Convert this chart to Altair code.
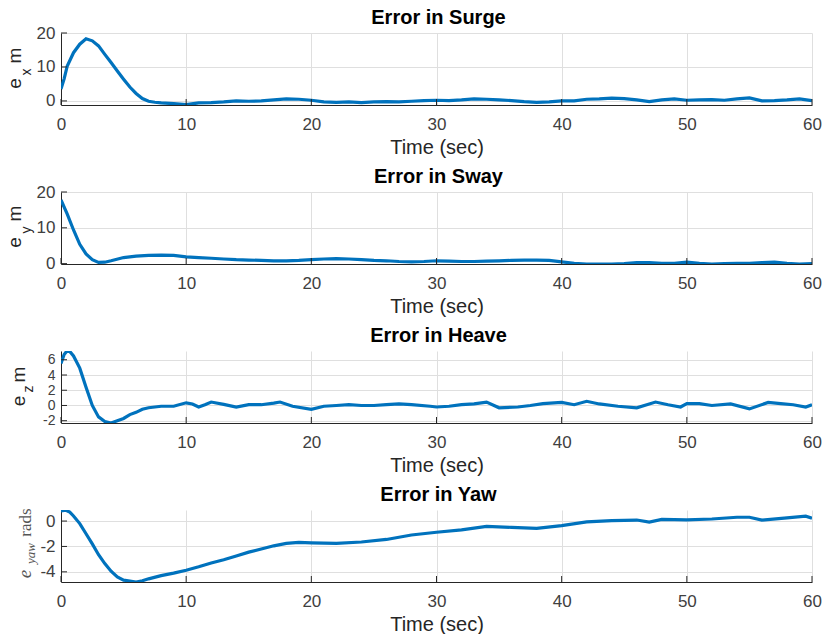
import altair as alt
import pandas as pd

# ---------------- data ----------------
X_TICKS = [0, 10, 20, 30, 40, 50, 60]

SURGE_T = [0, 0.25, 0.5, 1, 1.5, 2, 2.5, 3, 3.5, 4, 4.5, 5, 5.5, 6, 6.5, 7, 7.5, 8, 9, 10] + list(range(11, 61))
SURGE_V = [3.5, 6.5, 10.3, 14.2, 16.7, 18.3, 17.7, 16.2, 13.7, 11.3, 8.8, 6.4, 4.1, 2.2, 0.7, -0.1, -0.4, -0.6, -0.8, -1.1,
           -0.6, -0.5, -0.3, 0.0, -0.1, 0.0, 0.3, 0.6, 0.5, 0.2,
           -0.3, -0.4, -0.3, -0.5, -0.3, -0.2, -0.3, -0.1, 0.1, 0.2,
           0.1, 0.3, 0.6, 0.5, 0.3, 0.1, -0.2, -0.4, -0.3, 0.0,
           0.0, 0.5, 0.6, 0.8, 0.7, 0.3, -0.2, 0.3, 0.6, 0.2,
           0.3, 0.4, 0.2, 0.6, 0.9, 0.0, 0.1, 0.3, 0.6, 0.1]
SURGE_TICKS = [0, 10, 20]

SWAY_T = [0, 0.5, 1, 1.5, 2, 2.5, 3, 3.5, 4, 5, 6, 7, 8, 9, 10] + list(range(11, 61))
SWAY_V = [17.8, 13.8, 9.4, 5.4, 2.7, 1.1, 0.35, 0.4, 0.8, 1.7, 2.1, 2.3, 2.4, 2.3, 1.9,
          1.7, 1.5, 1.3, 1.1, 1.0, 0.9, 0.8, 0.8, 0.9, 1.1,
          1.3, 1.4, 1.3, 1.1, 0.9, 0.8, 0.6, 0.5, 0.6, 0.8,
          0.7, 0.6, 0.6, 0.7, 0.8, 0.9, 1.0, 1.0, 0.9, 0.5,
          0.1, -0.1, -0.1, -0.1, 0.0, 0.3, 0.3, 0.1, 0.1, 0.4,
          0.1, -0.1, 0.0, 0.1, 0.1, 0.3, 0.4, 0.1, -0.1, 0.0]
SWAY_TICKS = [0, 10, 20]

HEAVE_T = [0, 0.25, 0.5, 0.75, 1, 1.5, 2, 2.5, 3, 3.5, 4, 4.5, 5, 5.5, 6, 6.5, 7, 7.5, 8, 9, 10, 10.5, 11, 11.5,
           12, 13, 14, 15, 16, 17, 17.5, 18.5, 20, 21, 22, 23, 24, 25, 26, 27, 28, 29.5, 30, 31, 32, 33, 34, 35,
           36.5, 37.5, 38.5, 40, 41, 42, 43, 44.5, 46, 47.5, 48.5, 49.5, 50, 51, 52, 53.5, 55, 56.5, 57.5, 58.5,
           59.5, 60]
HEAVE_V = [5.5, 6.7, 7.2, 7.0, 6.5, 4.9, 2.4, 0.0, -1.5, -2.1, -2.3, -2.0, -1.7, -1.2, -0.9, -0.5, -0.3, -0.2,
           -0.1, -0.1, 0.35, 0.2, -0.2, 0.1, 0.45, 0.15, -0.2, 0.1, 0.1, 0.3, 0.45, -0.1, -0.5, -0.1, 0.0, 0.1,
           0.0, 0.0, 0.1, 0.2, 0.1, -0.1, -0.2, -0.1, 0.1, 0.2, 0.45, -0.3, -0.2, 0.0, 0.25, 0.4, 0.1, 0.55, 0.2,
           -0.1, -0.3, 0.45, 0.1, -0.2, 0.25, 0.25, 0.0, 0.2, -0.45, 0.4, 0.25, 0.1, -0.2, 0.1]
HEAVE_TICKS = [-2, 0, 2, 4, 6]

YAW_T = [0, 0.4, 0.7, 1, 1.5, 2, 2.5, 3, 3.5, 4, 4.5, 5, 5.5, 6, 6.5, 7, 8, 9, 10, 11, 12, 13, 14, 15, 16, 17,
         18, 19, 20, 22, 24, 26, 28, 30, 32, 34, 36, 38, 40, 42, 44, 46, 47, 48, 50, 52, 54, 55, 56, 58, 59.5, 60]
YAW_V = [0.8, 0.85, 0.7, 0.4, -0.2, -1.0, -1.8, -2.65, -3.35, -3.95, -4.4, -4.65, -4.72, -4.8, -4.7, -4.55,
         -4.3, -4.1, -3.87, -3.6, -3.3, -3.05, -2.75, -2.45, -2.2, -1.95, -1.76, -1.68, -1.72, -1.76, -1.65,
         -1.45, -1.1, -0.88, -0.7, -0.42, -0.5, -0.58, -0.36, -0.06, 0.03, 0.08, -0.08, 0.13, 0.1, 0.16, 0.3,
         0.3, 0.08, 0.25, 0.38, 0.22]
YAW_TICKS = [-4, -2, 0]

# ---------------- styling ----------------
BLUE = "#0072BD"
AXC = "#262626"
FONT = "Liberation Sans"
SERIF = "Liberation Serif"
W, H = 751, 72


def text_piece(text, x, y, size, font=FONT, style="normal", weight="normal", color=AXC, angle=270):
    return alt.Chart(pd.DataFrame({"k": [0]})).mark_text(
        text=text, angle=angle, align="center", baseline="alphabetic",
        font=font, fontSize=size, fontStyle=style, fontWeight=weight, color=color,
    ).encode(x=alt.value(x), y=alt.value(y))


def panel(title, t, v, ydom, yticks, pieces, ylab_size=17):
    df = pd.DataFrame({"t": t, "v": v})
    X = alt.X("t:Q", scale=alt.Scale(domain=[0, 60], nice=False),
              axis=alt.Axis(values=X_TICKS, title="Time (sec)", grid=True, labelFlush=False))
    Y = alt.Y("v:Q", scale=alt.Scale(domain=ydom, nice=False, zero=False),
              axis=alt.Axis(values=yticks, title=None, grid=True, labelOverlap=False, labelFlush=False,
                            labelFontSize=ylab_size, labelExpr="datum.value + ''"))
    line = alt.Chart(df).mark_line(color=BLUE, strokeWidth=3.2, clip=True).encode(x=X, y=Y)
    xt = alt.Chart(pd.DataFrame({"t": X_TICKS})).mark_rule(color=AXC, strokeWidth=1).encode(
        x=X, y=alt.value(H), y2=alt.value(H - 6))
    yt = alt.Chart(pd.DataFrame({"v": yticks})).mark_rule(color=AXC, strokeWidth=1).encode(
        y=Y, x=alt.value(0), x2=alt.value(6))
    ttl = text_piece(title, W / 2 + 2, -9, 20, weight="bold", color="#000000", angle=0)
    return alt.layer(line, xt, yt, ttl, *pieces).properties(width=W, height=H)


p1 = panel("Error in Surge", SURGE_T, SURGE_V, [-1.2, 20], SURGE_TICKS, [
    text_piece("e", -40, 50.5, 19),
    text_piece("x", -30, 39, 14),
    text_piece("m", -40, 22.5, 19),
])
p2 = panel("Error in Sway", SWAY_T, SWAY_V, [-0.1, 20], SWAY_TICKS, [
    text_piece("e", -40, 50.5, 19),
    text_piece("y", -30, 38, 14),
    text_piece("m", -40, 21.5, 19),
])
p3 = panel("Error in Heave", HEAVE_T, HEAVE_V, [-2.3, 7.15], HEAVE_TICKS, [
    text_piece("e", -36, 50, 19),
    text_piece("z", -28, 38, 14),
    text_piece("m", -36, 23.5, 19),
], ylab_size=14)
p4 = panel("Error in Yaw", YAW_T, YAW_V, [-4.8, 0.87], YAW_TICKS, [
    text_piece("e", -30, 64, 19, font=SERIF, style="italic", color="#555555"),
    text_piece("yaw", -26, 43.5, 13, font=SERIF, style="italic", color="#555555"),
    text_piece("rads", -30, 12.5, 17, font=SERIF, color="#555555"),
])

chart = alt.vconcat(p1, p2, p3, p4, spacing=10).properties(
    padding={"left": 6, "right": 0, "top": 8, "bottom": 0}
).configure_view(stroke=None).configure_axis(
    labelFont=FONT, labelFontSize=17, labelColor="#404040",
    titleFont=FONT, titleFontSize=20, titleColor=AXC, titleFontWeight="normal",
    domainColor=AXC, domainWidth=1, gridColor="#dfdfdf", gridWidth=1,
    ticks=False, tickSize=0,
).configure_axisX(labelPadding=11, titlePadding=5).configure_axisY(labelPadding=6)

chart.save("out.html", embed_options={"renderer": "svg", "actions": False})
